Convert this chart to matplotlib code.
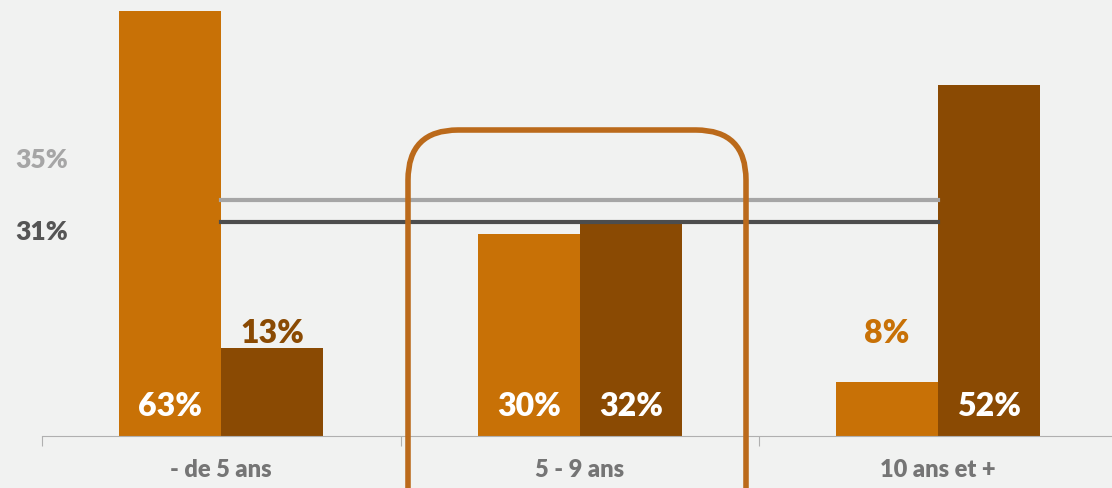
import matplotlib.pyplot as plt
from matplotlib.patches import FancyBboxPatch
import numpy as np

categories = ["- de 5 ans", "5 - 9 ans", "10 ans et +"]
serie_a = [63, 30, 8]     # orange
serie_b = [13, 32, 52]    # brun
ref_hi = 35
ref_lo = 31

ORANGE = "#c87106"
BROWN = "#8a4a03"
BG = "#f1f2f1"

plt.rcParams['font.family'] = ['Lato', 'DejaVu Sans']

fig = plt.figure(figsize=(11.12, 4.89), dpi=100, facecolor=BG)
# l'axe déborde un peu à droite de l'image, comme dans l'original
ax = fig.add_axes([42 / 1112, 52 / 489, (1117.5 - 42) / 1112, 437 / 489])
ax.set_facecolor(BG)

x = np.arange(len(categories))
w = 0.285
ax.bar(x - w / 2, serie_a, w, color=ORANGE, zorder=2)
ax.bar(x + w / 2, serie_b, w, color=BROWN, zorder=2)

ax.set_xlim(-0.5, 2.5)
ax.set_ylim(0, 64.8)

# lignes de référence
ax.plot([0, 2.0], [ref_hi, ref_hi], color="#a6a6a6", lw=3, zorder=3)
ax.plot([0, 2.0], [ref_lo + 0.7, ref_lo + 0.7], color="#4d4d4d", lw=3, zorder=3)
fig.text(42 / 1112, 1 - 160 / 489, f"{ref_hi}%", color="#a6a6a6", fontsize=19,
         fontweight="heavy", ha="center", va="center")
fig.text(42 / 1112, 1 - 232 / 489, f"{ref_lo}%", color="#555555", fontsize=19,
         fontweight="heavy", ha="center", va="center")

# étiquettes des barres
lbl = dict(fontsize=23, fontweight="heavy", ha="center", va="center", zorder=4)
ax.text(0 - w / 2, 4.5, f"{serie_a[0]}%", color="white", **lbl)
ax.text(0 + w / 2, 15.3, f"{serie_b[0]}%", color=BROWN, **lbl)
ax.text(1 - w / 2, 4.5, f"{serie_a[1]}%", color="white", **lbl)
ax.text(1 + w / 2, 4.5, f"{serie_b[1]}%", color="white", **lbl)
ax.text(2 - w / 2, 15.3, f"{serie_a[2]}%", color=ORANGE, **lbl)
ax.text(2 + w / 2, 4.5, f"{serie_b[2]}%", color="white", **lbl)

# axe
for s in ["top", "right", "left"]:
    ax.spines[s].set_visible(False)
ax.spines["bottom"].set_color("#b0b0b0")
ax.set_yticks([])
ax.set_xticks([-0.5, 0.5, 1.5, 2.5])
ax.set_xticklabels([])
ax.tick_params(axis="x", length=7, color="#b0b0b0", direction="out")
for i, c in enumerate(categories):
    ax.text(i, -4.9, c, color="#757575", fontsize=17, fontweight="heavy",
            ha="center", va="center", clip_on=False)

# cadre arrondi autour de la catégorie du milieu
box = FancyBboxPatch((408 / 1112, -0.2), (746 - 408) / 1112, (489 - 131) / 489 + 0.2,
                     boxstyle="round,pad=0,rounding_size=0.045",
                     transform=fig.transFigure, fill=False, ec="#bb6a1b", lw=4,
                     mutation_aspect=1112 / 489, zorder=5)
fig.patches.append(box)

fig.savefig("out.png", dpi=100, facecolor=BG)
